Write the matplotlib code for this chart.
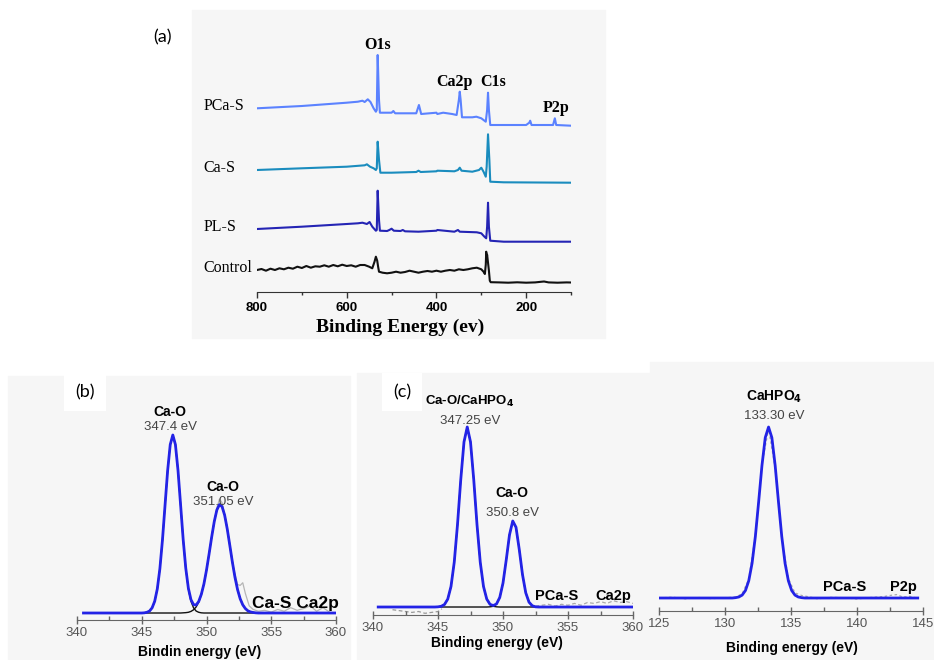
import numpy as np
import matplotlib
matplotlib.use("Agg")
import matplotlib.pyplot as plt
from matplotlib.patches import Rectangle
from matplotlib.ticker import MultipleLocator

# ---- (a) survey spectra (intensity above each trace's own baseline) ----
samples = ["PCa-S", "Ca-S", "PL-S", "Control"]
sample_offsets = [166, 109.3, 50.3, 9.3]
sample_colors = ["#5b82ff", "#1a8cbe", "#2424b4", "#111111"]

pcas_e = [800, 700, 600, 575, 565, 560, 553, 547, 540, 535, 533, 531, 528, 526, 500,
          496, 492, 445, 439, 434, 400, 398, 385, 365, 355, 350, 348, 346, 343, 320,
          311, 300, 290, 287, 285, 283, 280, 200, 193, 191, 188, 140, 136, 133, 100]
pcas_i = [17.7, 20.0, 23.3, 24.3, 25.3, 24.0, 26.7, 24.0, 17.7, 14.3, 16.0, 71.0, 26.0, 13.3, 13.3,
          15.0, 12.7, 12.7, 21.0, 12.0, 13.3, 12.0, 13.3, 12.0, 11.0, 26.0, 34.3, 26.0, 8.7, 8.7,
          9.3, 7.7, 4.3, 16.0, 33.3, 16.0, 1.0, 1.0, 3.3, 5.3, 1.0, 1.0, 7.7, 1.0, 0.3]

cas_e = [800, 700, 600, 560, 555, 548, 540, 535, 533, 531, 528, 525, 500, 445, 440, 435, 400,
         398, 360, 352, 348, 344, 320, 305, 300, 295, 290, 288, 285, 282, 280, 250, 100]
cas_i = [12.7, 14.4, 16.0, 17.4, 18.4, 16.0, 14.4, 12.7, 14.4, 41.0, 22.7, 10.0, 10.0, 10.7, 12.0,
         10.7, 11.4, 12.0, 11.4, 12.7, 15.0, 12.0, 11.0, 12.7, 15.0, 11.0, 6.0, 16.0, 48.4, 22.7,
         1.0, 0.4, 0.0]

pls_e = [800, 700, 600, 575, 565, 555, 549, 543, 535, 533, 531, 528, 526, 510, 505, 500, 495, 480,
         475, 470, 440, 400, 398, 360, 352, 348, 310, 300, 293, 289, 287, 285, 283, 280, 250, 100]
pls_i = [12.7, 15.0, 17.7, 18.4, 19.0, 17.7, 19.7, 15.0, 11.0, 11.7, 51.0, 21.7, 11.0, 10.7, 11.7,
         13.0, 11.0, 10.7, 11.7, 10.4, 10.0, 11.0, 11.7, 10.0, 11.7, 10.0, 9.4, 8.4, 5.0, 3.4,
         15.0, 39.0, 15.0, 1.0, 0.0, 0.0]

ctrl_e = [800, 790, 780, 770, 760, 750, 740, 730, 720, 710, 700, 690, 680, 670, 660, 650, 640, 630,
          620, 610, 600, 590, 580, 570, 560, 550, 543, 538, 535, 532, 530, 528, 520, 510, 500, 490,
          480, 470, 460, 450, 440, 430, 420, 410, 400, 390, 380, 370, 360, 350, 340, 330, 320, 310,
          300, 295, 292, 290, 289, 288, 287, 285, 283, 281, 279, 260, 240, 220, 200, 180, 165, 160,
          150, 130, 110, 100]
ctrl_i = [12.7, 13.7, 12.0, 14.0, 12.7, 14.4, 13.4, 15.0, 14.0, 16.0, 14.7, 16.7, 15.0, 16.4, 16.0,
          17.4, 16.0, 17.7, 16.4, 18.0, 16.7, 17.4, 16.0, 17.7, 17.7, 16.0, 14.4, 21.0, 26.0, 22.0,
          16.0, 11.0, 10.0, 9.4, 10.0, 11.0, 10.0, 10.7, 12.0, 11.0, 10.0, 11.0, 11.7, 11.0, 12.0,
          11.0, 12.0, 12.7, 12.0, 13.4, 12.7, 13.4, 14.4, 15.0, 13.4, 11.0, 8.7, 18.0, 31.0, 25.0,
          28.0, 20.0, 12.0, 2.0, 0.5, 0.3, 0.0, 0.4, 0.0, 0.3, 1.0, 1.2, 0.3, 0.0, 0.3, 0.2]

survey_peaks = ["O1s", "Ca2p", "C1s", "P2p"]
survey_peak_pos = [(531, 247), (360, 210), (273, 210), (133, 184)]

# ---- (b) Ca-S Ca2p ----
b_energy = [345.0, 345.2, 345.4, 345.6, 345.8, 346.0, 346.2, 346.4, 346.6, 346.8,
            347.0, 347.2, 347.4, 347.6, 347.8, 348.0, 348.2, 348.4, 348.6, 348.8,
            349.0, 349.2, 349.4, 349.6, 349.8, 350.0, 350.2, 350.4, 350.6, 350.8,
            351.0, 351.2, 351.4, 351.6, 351.8, 352.0, 352.2, 352.4, 352.6, 352.8,
            353.0, 353.2, 353.4, 353.6, 353.8, 354.0]
b_comp1 = [0.0, 0.1, 0.4, 1.1, 2.9, 6.6, 13.5, 24.9, 41.1, 60.7,
           80.1, 94.6, 100.0, 94.6, 80.1, 60.7, 41.1, 24.9, 13.5, 6.6,
           2.9, 1.1, 0.4, 0.1, 0.0, 0.0, 0.0, 0.0, 0.0, 0.0,
           0.0, 0.0, 0.0, 0.0, 0.0, 0.0, 0.0, 0.0, 0.0, 0.0,
           0.0, 0.0, 0.0, 0.0, 0.0, 0.0]
b_comp2 = [0.0, 0.0, 0.0, 0.0, 0.0, 0.0, 0.0, 0.0, 0.0, 0.0, 0.0, 0.0, 0.0,
           0.0, 0.0, 0.0, 0.1, 0.2, 0.4, 0.9, 1.8, 3.4, 6.1,
           10.4, 16.3, 24.1, 33.2, 42.7, 51.4, 57.9, 60.9, 59.8, 55.0,
           47.3, 38.0, 28.5, 20.0, 13.1, 8.0, 4.6, 2.5, 1.2, 0.6,
           0.3, 0.1, 0.0]
b_raw_e = [349.6, 349.9, 350.2, 350.5, 350.8, 351.0, 351.2, 351.5, 351.8, 352.1, 352.4, 352.6,
           352.8, 353.0, 353.3, 353.6, 354.0, 354.5, 355.0, 355.5, 356.0, 356.5, 357.0, 357.5,
           358.0, 358.5, 359.0, 359.5]
b_raw_i = [10.6, 19.5, 33.5, 47.5, 59.0, 64.0, 62.0, 52.0, 38.5, 25.0, 16.0, 15.5,
           17.0, 11.0, 4.0, 2.0, 1.0, 1.5, 0.5, 2.0, 1.0, 3.0, 1.5, 2.5, 4.0, 1.0, 3.0, 0.5]

# ---- (c) PCa-S Ca2p ----
c_energy = [344.75, 345.0, 345.25, 345.5, 345.75, 346.0, 346.25, 346.5, 346.75, 347.0,
            347.25, 347.5, 347.75, 348.0, 348.25, 348.5, 348.75, 349.0, 349.25, 349.5,
            349.75, 350.0, 350.25, 350.5, 350.75, 351.0, 351.25, 351.5, 351.75, 352.0,
            352.25, 352.5, 352.75, 353.0, 353.25]
c_comp1 = [0.0, 0.1, 0.4, 1.4, 4.4, 11.4, 24.9, 45.8, 70.7, 91.7,
           100.0, 91.7, 70.7, 45.8, 24.9, 11.4, 4.4, 1.4, 0.4, 0.1,
           0.0, 0.0, 0.0, 0.0, 0.0, 0.0, 0.0, 0.0, 0.0, 0.0,
           0.0, 0.0, 0.0, 0.0, 0.0]
c_comp2 = [0.0, 0.0, 0.0, 0.0, 0.0, 0.0, 0.0, 0.0, 0.0, 0.0,
           0.0, 0.0, 0.0, 0.0, 0.0, 0.0, 0.0, 0.1, 0.4, 1.6,
           5.3, 13.3, 26.2, 40.1, 47.8, 44.3, 32.0, 18.0, 7.9, 2.7,
           0.7, 0.1, 0.0, 0.0, 0.0]
c_raw_left_e = [341.5, 342.0, 342.5, 343.0, 343.5, 344.0, 344.5, 345.0, 345.3]
c_raw_left_i = [-1.5, -2.0, -2.5, -3.0, -2.5, -3.5, -3.0, -2.5, -1.0]
c_raw_right_e = [352.5, 353.0, 353.5, 354.0, 354.5, 355.0, 355.5, 356.0, 356.5, 357.0,
                 357.5, 358.0, 358.5, 359.0, 359.5, 360.0]
c_raw_right_i = [0.5, 1.0, 1.5, 0.5, 1.5, 1.0, 2.0, 1.0, 2.5, 2.0,
                 3.0, 2.0, 3.5, 2.5, 3.0, 2.0]

# ---- (d) PCa-S P2p ----
d_energy = [130.3, 130.55, 130.8, 131.05, 131.3, 131.55, 131.8, 132.05, 132.3, 132.55,
            132.8, 133.05, 133.3, 133.55, 133.8, 134.05, 134.3, 134.55, 134.8, 135.05,
            135.3, 135.55, 135.8, 136.05, 136.3]
d_fit = [0.0, 0.0, 0.2, 0.6, 1.7, 4.4, 10.1, 20.3, 36.0, 56.3,
         77.5, 93.8, 100.0, 93.8, 77.5, 56.3, 36.0, 20.3, 10.1, 4.4,
         1.7, 0.6, 0.2, 0.0, 0.0]
d_raw_e = [125, 126, 127, 128, 129, 130, 130.8, 131.3, 131.8, 132.3, 132.8, 133.3, 133.8, 134.3,
           134.8, 135.3, 135.8, 136.5, 137, 138, 139, 140, 141, 142, 142.5, 143, 143.5, 144, 144.5]
d_raw_i = [0.0, 0.5, -0.5, 0.3, -0.4, 0.2, 0.5, 2.5, 11.0, 37.0, 78.0, 99.0, 76.0, 35.0,
           11.5, 3.0, 1.5, 0.5, -0.5, 0.4, 0.2, -0.6, 0.3, 0.8, 1.5, 2.0, 0.5, 1.0, 0.0]

W, H = 934, 660
fig = plt.figure(figsize=(W / 100, H / 100), dpi=100)


def box(l, t, r, b):
    return [l / W, 1 - b / H, (r - l) / W, (b - t) / H]


def bg(l, t, r, b, color="#f6f6f6"):
    fig.add_artist(Rectangle((l / W, 1 - b / H), (r - l) / W, (b - t) / H,
                             transform=fig.transFigure, color=color, zorder=0))


bg(192, 10, 605, 338)
bg(8, 376, 350, 660)
bg(357, 373, 650, 660)
bg(650, 362, 934, 660)

SERIF = "Liberation Serif"
SANS = "Liberation Sans"
BLUE = "#2323e6"

# ---------------- (a) ----------------
ax = fig.add_axes(box(257, 30, 571, 292))
ax.set_facecolor("none")
series = [(pcas_e, pcas_i), (cas_e, cas_i), (pls_e, pls_i), (ctrl_e, ctrl_i)]
for (e, i), name, off, col in zip(series, samples, sample_offsets, sample_colors):
    ax.plot(e, np.array(i) + off, color=col, lw=1.5)
    ax.text(920, off + i[0] + 2, name, ha="left", va="center", family=SERIF,
            fontsize=11.5, clip_on=False)
for lab, (x, y) in zip(survey_peaks, survey_peak_pos):
    ax.text(x, y, lab, ha="center", va="center", family=SERIF, fontweight="bold", fontsize=11.5)
ax.set_xlim(800, 100)
ax.set_ylim(0, 262)
ax.set_yticks([])
for s in ["left", "top", "right"]:
    ax.spines[s].set_visible(False)
ax.spines["bottom"].set_color("#333333")
ax.xaxis.set_major_locator(MultipleLocator(200))
ax.xaxis.set_minor_locator(MultipleLocator(100))
ax.tick_params(axis="x", which="major", length=4, width=1, pad=3, color="#333333")
ax.tick_params(axis="x", which="minor", length=2.5, width=1, color="#333333")
for t in ax.get_xticklabels():
    t.set_fontfamily(SANS)
    t.set_fontweight("bold")
    t.set_fontsize(9.5)
fig.text(400 / W, 1 - 327 / H, "Binding Energy (ev)", ha="center", va="center",
         family=SERIF, fontweight="bold", fontsize=14)
fig.text(162 / W, 1 - 37 / H, "(a)", ha="center", va="center", family="Lato", fontsize=13)


def style_bottom(ax, lo, hi):
    ax.set_facecolor("none")
    ax.set_xlim(lo, hi)
    ax.set_yticks([])
    for s in ["left", "top", "right"]:
        ax.spines[s].set_visible(False)
    ax.spines["bottom"].set_color("#666666")
    ax.xaxis.set_major_locator(MultipleLocator(5))
    ax.xaxis.set_minor_locator(MultipleLocator(2.5))
    ax.tick_params(axis="x", which="major", direction="inout", length=6, width=1,
                   color="#666666", labelcolor="#555555", labelsize=9.5, pad=2)
    ax.tick_params(axis="x", which="minor", direction="in", length=3, width=1, color="#666666")
    for t in ax.get_xticklabels():
        t.set_fontfamily(SANS)


def peak_label(ax, x, y_title, y_val, title, value, size=10):
    ax.text(x, y_title, title, ha="center", va="center", family=SANS,
            fontweight="bold", fontsize=size, clip_on=False)
    ax.text(x, y_val, value, ha="center", va="center", family=SANS,
            color="#444444", fontsize=9.5, clip_on=False)


# ---------------- (b) ----------------
ax = fig.add_axes(box(77, 380, 336, 620))
b_fit = np.array(b_comp1) + np.array(b_comp2)
ax.plot(b_raw_e, b_raw_i, color="#b5b5b5", lw=0.9, zorder=1)
ax.plot(b_energy, b_comp1, color="#111111", lw=1.0, zorder=2)
ax.plot(b_energy, b_comp2, color="#111111", lw=1.0, zorder=2)
ax.plot([340.5] + b_energy + [360.0], np.r_[0.0, b_fit, 0.0], color=BLUE, lw=2.0, zorder=3)
style_bottom(ax, 340, 360)
ax.set_ylim(-3.93, 130.9)
peak_label(ax, 347.2, 112.9, 104.5, "Ca-O", "347.4 eV")
peak_label(ax, 351.3, 70.8, 62.3, "Ca-O", "351.05 eV")
ax.text(353.5, 5.6, "Ca-S Ca2p", ha="left", va="center", family=SANS, fontweight="bold",
        fontsize=12.5, clip_on=False)
fig.text(200 / W, 1 - 652 / H, "Bindin energy (eV)", ha="center", va="center",
         family=SANS, fontweight="bold", fontsize=10)
fig.text(85 / W, 1 - 392 / H, "(b)", ha="center", va="center", family="Lato", fontsize=13,
         bbox=dict(boxstyle="square,pad=0.6", fc="white", ec="none"))

# ---------------- (c) ----------------
ax = fig.add_axes(box(373, 380, 633, 615))
c_fit = np.array(c_comp1) + np.array(c_comp2)
ax.plot(c_raw_left_e, c_raw_left_i, color="#999999", lw=0.9, ls=(0, (3, 2)), zorder=1)
ax.plot(c_raw_right_e, c_raw_right_i, color="#aaaaaa", lw=0.9, ls=(0, (3, 2)), zorder=1)
ax.plot(c_energy, c_comp1, color="#111111", lw=1.0, zorder=2)
ax.plot(c_energy, c_comp2, color="#111111", lw=1.0, zorder=2)
ax.plot([340.4] + c_energy + [360.0], np.r_[0.0, c_fit, 0.0], color=BLUE, lw=2.0, zorder=3)
style_bottom(ax, 340, 360)
ax.set_ylim(-4.44, 126.1)
peak_label(ax, 347.46, 114.2, 103.6, "Ca-O/CaHPO$_\\mathbf{4}$", "347.25 eV", size=9.5)
peak_label(ax, 350.7, 63.3, 52.2, "Ca-O", "350.8 eV")
ax.text(354.1, 6.1, "PCa-S", ha="center", va="center", family=SANS, fontweight="bold",
        fontsize=10.5, clip_on=False)
ax.text(358.5, 6.1, "Ca2p", ha="center", va="center", family=SANS, fontweight="bold",
        fontsize=10.5, clip_on=False)
fig.text(497 / W, 1 - 643 / H, "Binding energy (eV)", ha="center", va="center",
         family=SANS, fontweight="bold", fontsize=10)
fig.text(402 / W, 1 - 392 / H, "(c)", ha="center", va="center", family="Lato", fontsize=13,
         bbox=dict(boxstyle="square,pad=0.6", fc="white", ec="none"))

# ---------------- (d) ----------------
ax = fig.add_axes(box(659, 380, 923, 611))
ax.plot(d_raw_e, d_raw_i, color="#aaaaaa", lw=0.9, ls=(0, (2, 2)), zorder=1)
ax.plot([125.0] + d_energy + [144.6], [0.0] + d_fit + [0.0], color=BLUE, lw=2.0, zorder=3)
style_bottom(ax, 125, 145)
ax.set_ylim(-7.6, 127.5)
peak_label(ax, 133.7, 117.5, 106.4, "CaHPO$_\\mathbf{4}$", "133.30 eV")
ax.text(139.1, 6.4, "PCa-S", ha="center", va="center", family=SANS, fontweight="bold",
        fontsize=10.5, clip_on=False)
ax.text(143.5, 6.4, "P2p", ha="center", va="center", family=SANS, fontweight="bold",
        fontsize=10.5, clip_on=False)
fig.text(792 / W, 1 - 648 / H, "Binding energy (eV)", ha="center", va="center",
         family=SANS, fontweight="bold", fontsize=10)

fig.savefig("out.png", dpi=100)
